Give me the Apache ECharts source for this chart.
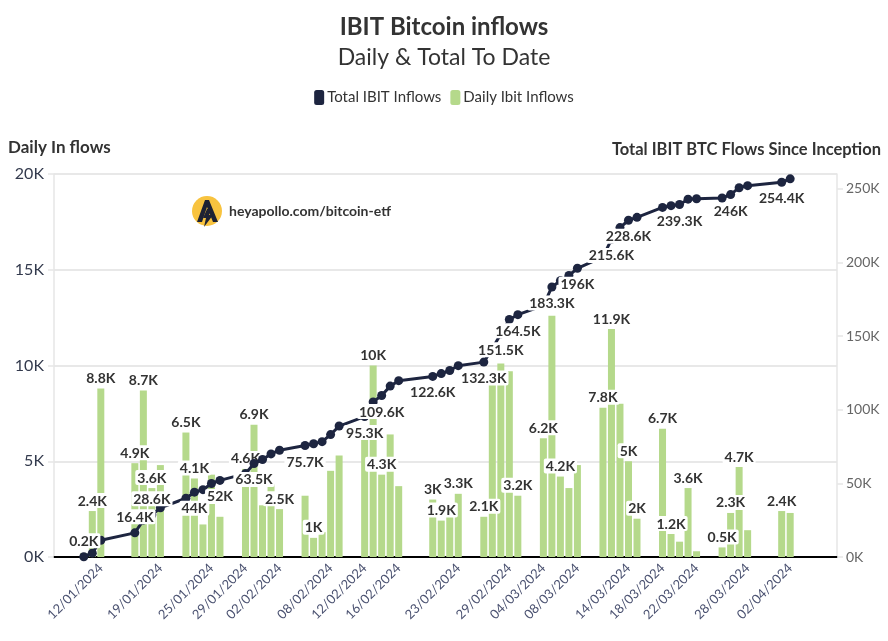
<!DOCTYPE html>
<html>
<head>
<meta charset="utf-8">
<script src="https://cdn.jsdelivr.net/npm/echarts@6/dist/echarts.min.js"></script>
<style>
html,body{margin:0;padding:0;background:#fff;}
#chart{width:888px;height:641px;}
</style>
</head>
<body>
<div id="chart"></div>
<script>
// Trading dates (YYYY-MM-DD)
const dates = ['2024-01-10','2024-01-11','2024-01-12','2024-01-16','2024-01-17','2024-01-18','2024-01-19','2024-01-22','2024-01-23','2024-01-24','2024-01-25','2024-01-26','2024-01-29','2024-01-30','2024-01-31',
'2024-02-01','2024-02-02','2024-02-05','2024-02-06','2024-02-07','2024-02-08','2024-02-09','2024-02-12','2024-02-13','2024-02-14','2024-02-15','2024-02-16','2024-02-20','2024-02-21','2024-02-22','2024-02-23','2024-02-26','2024-02-27','2024-02-28','2024-02-29',
'2024-03-01','2024-03-04','2024-03-05','2024-03-06','2024-03-07','2024-03-08','2024-03-11','2024-03-12','2024-03-13','2024-03-14','2024-03-15','2024-03-18','2024-03-19','2024-03-20','2024-03-21','2024-03-22','2024-03-25','2024-03-26','2024-03-27','2024-03-28',
'2024-04-01','2024-04-02'];

// Daily inflows (thousand BTC)
const dailyInflows = [0.2,2.4,8.8,4.9,8.7,3.6,4.8,6.5,4.1,1.7,4.3,2.1,4.6,6.9,2.7,
3.8,2.5,3.2,1.0,1.3,4.5,5.3,6.4,10.0,4.3,6.4,3.7,3.0,1.9,2.1,3.3,2.1,9.1,10.1,9.7,
3.2,6.2,12.6,4.2,3.6,4.8,7.8,11.9,8.0,5.0,2.0,6.7,1.2,0.8,3.6,0.3,0.5,2.3,4.7,1.4,
2.4,2.3];

// Total inflows to date (thousand BTC)
const totalInflows = [0.2,2.6,11.4,16.4,25.0,28.6,33.4,39.9,44.0,45.7,49.9,52.0,56.6,63.5,66.2,
70.0,72.5,75.7,76.9,78.3,83.1,88.9,95.3,105.3,109.6,116.0,119.7,122.6,124.5,126.6,129.9,132.3,141.4,151.5,161.2,
164.5,170.7,183.3,187.5,191.1,196.0,203.8,215.6,223.6,228.6,230.6,237.3,238.5,239.3,242.9,243.2,243.7,246.0,250.7,252.1,
254.4,256.7];

// Dates whose values are labelled in the picture
const barLabelDates = ['2024-01-11','2024-01-12','2024-01-16','2024-01-17','2024-01-18','2024-01-22','2024-01-23','2024-01-29','2024-01-30','2024-02-02','2024-02-06','2024-02-13','2024-02-14','2024-02-20','2024-02-21','2024-02-23','2024-02-26','2024-03-01','2024-03-04','2024-03-06','2024-03-11','2024-03-12','2024-03-14','2024-03-15','2024-03-18','2024-03-19','2024-03-21','2024-03-25','2024-03-26','2024-03-27','2024-04-01'];
const lineLabelDates = ['2024-01-10','2024-01-16','2024-01-18','2024-01-23','2024-01-26','2024-01-30','2024-02-05','2024-02-12','2024-02-14','2024-02-20','2024-02-26','2024-02-28','2024-03-01','2024-03-05','2024-03-08','2024-03-12','2024-03-14','2024-03-20','2024-03-26','2024-04-01'];
const lineLabelAboveDates = ['2024-01-10','2024-01-16','2024-01-18'];

// X axis tick labels
const xTickLabels = ['2024-01-12','2024-01-19','2024-01-25','2024-01-29','2024-02-02','2024-02-08','2024-02-12','2024-02-16','2024-02-23','2024-02-29','2024-03-04','2024-03-08','2024-03-14','2024-03-18','2024-03-22','2024-03-28','2024-04-02'];

// Left / right axis ticks (K)
const leftTicks = [0,5,10,15,20];
const rightTicks = [0,50,100,150,200,250];

// Axis range (calendar days)
const axisStart = '2024-01-07';
const axisEnd = '2024-04-07';

// Build calendar-day category list for the library
const allDays = [];
(function(){
  let t = Date.parse(axisStart + 'T00:00:00Z');
  const end = Date.parse(axisEnd + 'T00:00:00Z');
  while (t <= end) { allDays.push(new Date(t).toISOString().slice(0,10)); t += 86400000; }
})();
const dailyMap = {}, totalMap = {};
dates.forEach((d,i)=>{ dailyMap[d] = dailyInflows[i]; totalMap[d] = totalInflows[i]; });
const tradingSet = new Set(dates);
const xLabelSet = new Set(xTickLabels);

const fmtK = v => (Math.round(v*10)/10) + 'K';
const fmtDate = d => d.slice(8,10) + '/' + d.slice(5,7) + '/' + d.slice(0,4);

const FONT = 'Lato';
const labelBase = {
  fontFamily: FONT, fontWeight: 'bold', fontSize: 14, color: '#333333',
  backgroundColor: '#ffffff', padding: [1,2,0,2], borderRadius: 2
};

const barData = allDays.map(d => {
  if (!(d in dailyMap)) return '-';
  return { value: dailyMap[d], label: { show: barLabelDates.includes(d) } };
});
const lineData = allDays.map(d => {
  if (!(d in totalMap)) return '-';
  const show = lineLabelDates.includes(d);
  return { value: totalMap[d], label: { show: show, position: lineLabelAboveDates.includes(d) ? 'top' : 'bottom' } };
});

const chart = echarts.init(document.getElementById('chart'), null, {renderer:'canvas'});
chart.setOption({
  animation: false,
  textStyle: { fontFamily: FONT },
  title: {
    text: 'IBIT Bitcoin inflows',
    subtext: 'Daily & Total To Date',
    left: 'center', top: 10, itemGap: 7,
    textStyle: { fontFamily: FONT, fontSize: 24, fontWeight: 'bold', color: '#333333' },
    subtextStyle: { fontFamily: FONT, fontSize: 23, color: '#333333' }
  },
  legend: {
    top: 85, left: 'center', icon: 'roundRect', itemWidth: 10, itemHeight: 15, itemGap: 9,
    textStyle: { fontFamily: FONT, fontSize: 15, color: '#333333', padding: [0,0,0,-2] },
    data: ['Total IBIT Inflows','Daily Ibit Inflows']
  },
  graphic: [
    { type: 'text', left: 8, top: 139, style: { text: 'Daily In flows', font: 'bold 17px Lato', fill: '#333333' } },
    { type: 'text', right: 7, top: 141, style: { text: 'Total IBIT BTC Flows Since Inception', font: 'bold 16.5px Lato', fill: '#333333' } },
    { type: 'circle', shape: { cx: 207, cy: 211, r: 15 }, style: { fill: '#f8c33f' }, z: 10 },
    { type: 'polygon', shape: { points: [[197,222],[205,200],[209,200],[218,222],[213,222],[207,207],[202,222]] }, style: { fill: '#1e2233' }, z: 11 },
    { type: 'polygon', shape: { points: [[207,209],[212,209],[209,215],[213,215],[204,227],[206,218],[203,218]] }, style: { fill: '#1e2233' }, z: 11 },
    { type: 'text', left: 229, top: 204, style: { text: 'heyapollo.com/bitcoin-etf', font: 'bold 14px Lato', fill: '#333333' }, z: 10 }
  ],
  grid: { left: 54, right: 51, top: 174, bottom: 84, containLabel: false },
  xAxis: {
    type: 'category',
    data: allDays,
    boundaryGap: true,
    axisLine: { lineStyle: { color: '#000000', width: 2 } },
    axisTick: { alignWithLabel: true, interval: (i, v) => tradingSet.has(v), length: 6, lineStyle: { color: '#000000', width: 1.5 } },
    axisLabel: { interval: (i, v) => xLabelSet.has(v), rotate: 45, margin: 9, fontSize: 13, color: '#4a5170', fontFamily: FONT, formatter: v => fmtDate(v) },
    splitLine: { show: false }
  },
  yAxis: [
    {
      type: 'value', min: leftTicks[0], max: leftTicks[leftTicks.length-1], interval: leftTicks[1]-leftTicks[0],
      position: 'left',
      axisLine: { show: true, lineStyle: { color: '#e6e6e6', width: 1.5 } },
      axisTick: { show: true, length: 6, lineStyle: { color: '#e6e6e6', width: 1.5 } },
      axisLabel: { fontSize: 16, color: '#333a4d', margin: 10, formatter: v => v + 'K', fontFamily: FONT },
      splitLine: { show: true, lineStyle: { color: '#e8e8e8', width: 2 } }
    },
    {
      type: 'value', min: 0, max: 260, interval: rightTicks[1]-rightTicks[0],
      position: 'right',
      axisLine: { show: true, lineStyle: { color: '#e6e6e6', width: 1.5 } },
      axisTick: { show: true, length: 6, lineStyle: { color: '#e6e6e6', width: 1.5 } },
      axisLabel: { fontSize: 14, color: '#666666', margin: 9, showMaxLabel: false, formatter: v => v + 'K', fontFamily: FONT },
      splitLine: { show: false }
    }
  ],
  series: [
    {
      name: 'Total IBIT Inflows', type: 'line', yAxisIndex: 1, data: lineData, connectNulls: true,
      color: '#1d2540',
      lineStyle: { width: 3, color: '#1d2540' },
      itemStyle: { color: '#1d2540' },
      symbol: 'circle', symbolSize: 9, showAllSymbol: true,
      label: Object.assign({ show: false, distance: 4, formatter: p => fmtK(p.value) }, labelBase),
      z: 4
    },
    {
      name: 'Daily Ibit Inflows', type: 'bar', yAxisIndex: 0, data: barData,
      color: '#b5d98b',
      barWidth: 7,
      itemStyle: { color: '#b5d98b' },
      label: Object.assign({ show: false, position: 'top', distance: 3, formatter: p => fmtK(p.value) }, labelBase),
      z: 3
    }
  ]
});
</script>
</body>
</html>
